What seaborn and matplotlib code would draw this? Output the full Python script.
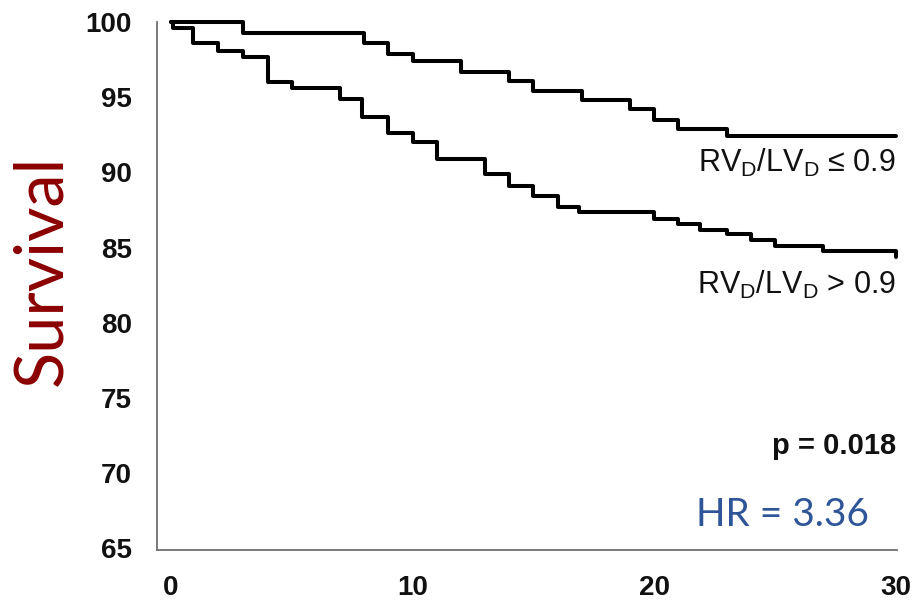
import matplotlib
matplotlib.use("Agg")
import matplotlib.pyplot as plt
import seaborn as sns
import pandas as pd

# ---- data ----
upper_label = "RVD/LVD <= 0.9"
upper_t = [0, 3, 8, 9, 10, 12, 14, 15, 17, 19, 20, 21, 23, 30]
upper_s = [100, 99.3, 98.6, 97.9, 97.4, 96.7, 96.1, 95.4, 94.8, 94.2, 93.5, 92.9, 92.4, 92.4]

lower_label = "RVD/LVD > 0.9"
lower_t = [0, 0.1, 0.9, 1.95, 3, 4, 5, 7, 7.9, 9, 10, 11, 13, 14, 15, 16, 16.9,
           20, 21, 21.9, 23, 24, 25, 27, 30]
lower_s = [100, 99.6, 98.6, 98.1, 97.7, 96.0, 95.6, 94.9, 93.7, 92.6, 92.0, 90.9,
           89.9, 89.1, 88.4, 87.7, 87.4, 86.9, 86.6, 86.2, 85.9, 85.5, 85.1, 84.8, 84.4]

x_ticks = [0, 10, 20, 30]
y_ticks = [65, 70, 75, 80, 85, 90, 95, 100]

df = pd.concat([
    pd.DataFrame({"time": upper_t, "survival": upper_s, "group": upper_label}),
    pd.DataFrame({"time": lower_t, "survival": lower_s, "group": lower_label}),
], ignore_index=True)

sns.set_style("white")
plt.rcParams["font.family"] = ["Liberation Sans", "DejaVu Sans"]

fig = plt.figure(figsize=(9.16, 6.13), dpi=100)
ax = fig.add_axes([157 / 916, 63 / 613, 740 / 916, 528 / 613])

sns.lineplot(data=df, x="time", y="survival", hue="group",
             palette={upper_label: "black", lower_label: "black"},
             estimator=None, sort=False, drawstyle="steps-post",
             linewidth=2.9, legend=False, ax=ax, clip_on=False)

ax.set_xlim(-0.58, 30.05)
ax.set_ylim(64.9, 100)
ax.set_xticks(x_ticks)
ax.set_yticks(y_ticks)
ax.set_xlabel("")
ax.set_ylabel("")

for side in ["top", "right"]:
    ax.spines[side].set_visible(False)
for side in ["left", "bottom"]:
    ax.spines[side].set_color("#707070")
    ax.spines[side].set_linewidth(1.3)

ax.tick_params(axis="both", which="major", direction="out", length=5, width=1.1,
               color="#707070", labelsize=20, labelcolor="#111111")
ax.tick_params(axis="y", pad=13)
ax.tick_params(axis="x", pad=13)
for lab in ax.get_xticklabels() + ax.get_yticklabels():
    lab.set_fontweight("bold")

# annotations
ax.text(30, 90.6, r"RV$_\mathregular{D}$/LV$_\mathregular{D}$ ≤ 0.9",
        ha="right", va="center", fontsize=22, color="#111111")
ax.text(30, 82.5, r"RV$_\mathregular{D}$/LV$_\mathregular{D}$ > 0.9",
        ha="right", va="center", fontsize=22, color="#111111")
ax.text(30, 71.8, "p = 0.018", ha="right", va="center", fontsize=21,
        fontweight="bold", color="#111111")
ax.text(28.9, 67.2, "HR = 3.36", ha="right", va="center", fontsize=28,
        color="#2E5597", family=["Lato", "DejaVu Sans"])

fig.text(42 / 916, 1 - 270 / 613, "Survival", rotation=90, ha="center",
         va="center", fontsize=48, color="#8B0000", family=["Lato", "DejaVu Sans"])

fig.savefig("out.png", dpi=100)
